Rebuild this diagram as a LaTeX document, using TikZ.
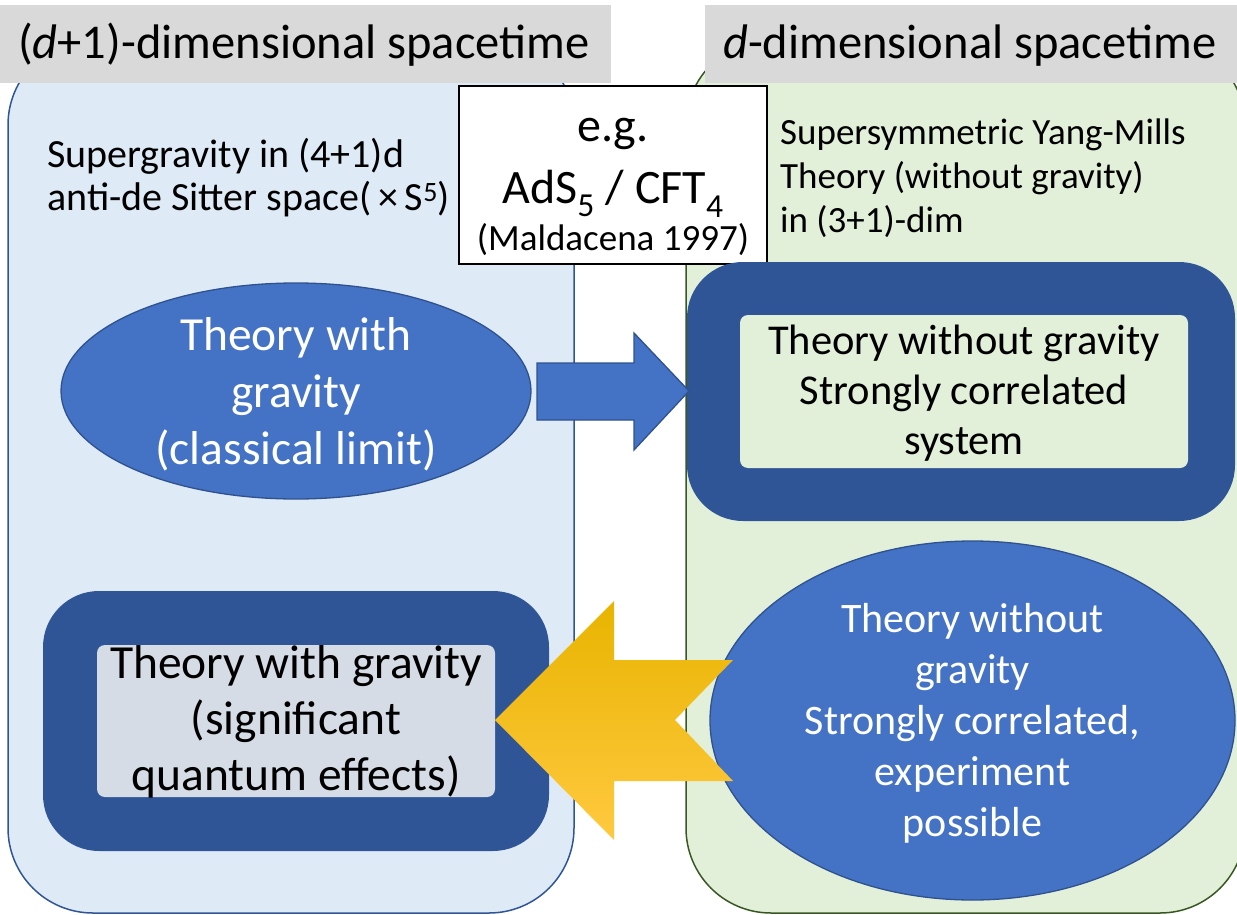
\documentclass[tikz,border=0pt]{standalone}
\usepackage{fontspec}
\setmainfont{Carlito}
\usetikzlibrary{shapes.geometric}
\definecolor{panelblue}{HTML}{DEEBF7}
\definecolor{panelblueline}{HTML}{2F5597}
\definecolor{panelgreen}{HTML}{E2F0D9}
\definecolor{panelgreenline}{HTML}{385723}
\definecolor{hdrgray}{HTML}{D9D9D9}
\definecolor{accent}{HTML}{4472C4}
\definecolor{accentline}{HTML}{2F528F}
\definecolor{darkframe}{HTML}{2F5597}
\definecolor{innergray}{HTML}{D6DCE5}
\definecolor{yelA}{HTML}{E8B400}
\definecolor{yelB}{HTML}{FFC000}
\definecolor{yelC}{HTML}{FFC940}
\newcommand{\fsz}[2]{\fontsize{#1}{#2}\selectfont}
\begin{document}
\begin{tikzpicture}[x=1pt,y=-1pt,
  panel/.style={rectangle, rounded corners=85pt, line width=1.5pt, inner sep=0pt},
  hdr/.style={rectangle, fill=hdrgray, inner sep=0pt},
  egbox/.style={rectangle, fill=white, draw=black, line width=1.5pt, inner sep=0pt, minimum width=308pt, minimum height=178pt},
  oval/.style={ellipse, fill=accent, draw=accentline, line width=1.3pt, inner sep=0pt},
  frame/.style={rectangle, fill=darkframe, rounded corners=56pt, inner sep=0pt},
  innerbox/.style={rectangle, rounded corners=8pt, inner sep=0pt},
  txt/.style={inner sep=0pt, text=black},
  wtxt/.style={inner sep=0pt, text=white, align=center}
]
\path[use as bounding box] (0,0) rectangle (1237,915);

% panels
\node[panel, fill=panelblue, draw=panelblueline, minimum width=566pt, minimum height=873pt] (lpanel) at (291,476.5) {};
\node[panel, fill=panelgreen, draw=panelgreenline, minimum width=559pt, minimum height=873pt] (rpanel) at (965.5,476.5) {};

% headers
\node[hdr, minimum width=611pt, minimum height=78pt] (lhdr) at (305.5,44) {};
\node[hdr, minimum width=534pt, minimum height=78pt] (rhdr) at (972,44) {};
\node[txt, anchor=base west, font=\fsz{48.5}{58}] (lhdrt) at (18,59) {(\textit{d}+1)-dimensional spacetime};
\node[txt, anchor=base west, font=\fsz{48.5}{58}] (rhdrt) at (723,59) {\textit{d}-dimensional spacetime};

% descriptions
\node[txt, anchor=west, align=left, font=\fsz{40}{43}] (ldesc) at (47,178)
  {Supergravity in (4+1)d\\anti-de Sitter space(\,×\,S\textsuperscript{5})};
\node[txt, anchor=west, align=left, font=\fsz{37}{44}] (rdesc) at (780,178)
  {Supersymmetric Yang-Mills\\Theory (without gravity)\\in (3+1)-dim};

% e.g. box
\node[egbox] (eg) at (613,175) {};
\node[txt, anchor=base, font=\fsz{48}{54}] (eg1) at (613,142) {e.g.};
\node[txt, anchor=base, font=\fsz{48}{54}] (eg2) at (613,204) {AdS\textsubscript{5} / CFT\textsubscript{4}};
\node[txt, anchor=base, font=\fsz{37}{42}] (eg3) at (613,250) {(Maldacena 1997)};

% upper left ellipse
\node[oval, minimum width=470pt, minimum height=216pt] (classical) at (296,391) {};
\node[wtxt, font=\fsz{47.5}{57}] (classicalt) at (296,394) {Theory with\\gravity\\(classical limit)};

% upper right frame
\node[frame, minimum width=548pt, minimum height=259pt] (urframe) at (961,391.5) {};
\node[innerbox, fill=panelgreen, minimum width=448pt, minimum height=153pt] (urinner) at (964,391.5) {};
\node[txt, align=center, font=\fsz{42.5}{50}] (urtext) at (964,393) {Theory without gravity\\Strongly correlated\\system};

% lower left frame
\node[frame, minimum width=506pt, minimum height=260pt] (llframe) at (296,721) {};
\node[innerbox, fill=innergray, minimum width=398pt, minimum height=152pt] (llinner) at (296,721) {};
\node[txt, align=center, font=\fsz{47.5}{56}] (lltext) at (296,722) {Theory with gravity\\(significant\\quantum effects)};

% lower right ellipse
\node[oval, minimum width=525pt, minimum height=359pt] (strong) at (972.5,720.5) {};
\node[wtxt, font=\fsz{42}{51}] (strongt) at (972.5,723) {Theory without\\gravity\\Strongly correlated,\\experiment\\possible};

% blue block arrow (classical -> strongly correlated)
\draw[fill=accent, draw=accentline, line width=1.3pt, line join=miter]
  (537,363) -- (634,363) -- (634,333) -- (689,391) -- (634,450) -- (634,420) -- (537,420) -- cycle;

% yellow notched arrow (strongly correlated -> quantum gravity)
\shade[top color=yelA, middle color=yelB, bottom color=yelC]
  (495,720) -- (614,601) -- (614,660) -- (733,660) -- (675,720) -- (733,781) -- (614,781) -- (614,840) -- cycle;
\end{tikzpicture}
\end{document}
